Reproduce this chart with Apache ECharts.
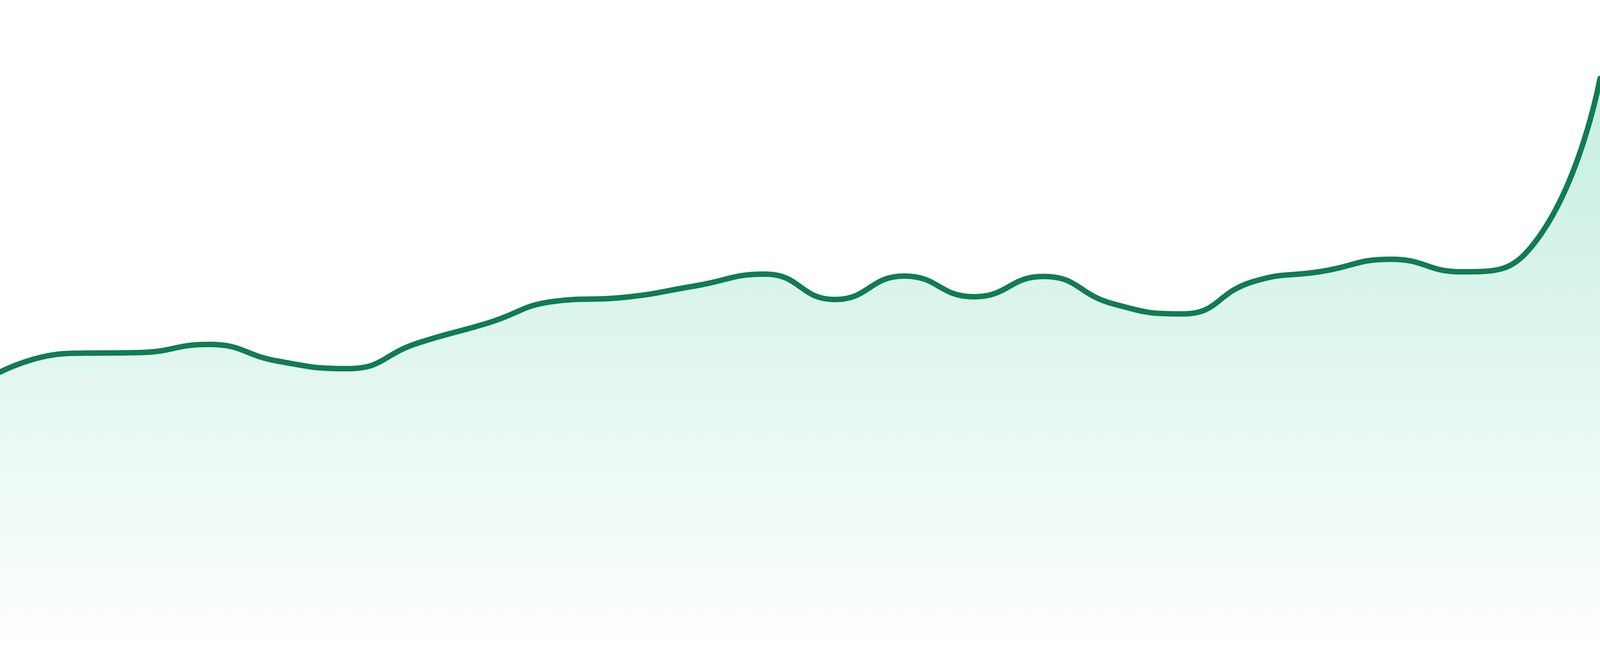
<!DOCTYPE html>
<html>
<head>
<meta charset="utf-8">
<style>
  html, body { margin: 0; padding: 0; background: #ffffff; overflow: hidden; width: 100%; height: 100%; }
  #chart { width: 100vw; height: 100vh; }
</style>
<script src="https://cdn.jsdelivr.net/npm/echarts@6/dist/echarts.min.js"></script>
</head>
<body>
<div id="chart"></div>
<script>
const categories = ['1','2','3','4','5','6','7','8','9','10','11','12','13','14','15','16','17','18','19','20','21','22','23','24'];
const values = [679, 727, 729, 750, 707, 688, 753, 804, 861, 871, 900, 930, 865, 925, 872, 924, 854, 828, 910, 937, 968, 936, 997, 1431];
const yMin = 0;
const yMax = 1632;

const chart = echarts.init(document.getElementById('chart'), null, { renderer: 'canvas' });
chart.setOption({
  animation: false,
  backgroundColor: '#ffffff',
  grid: { left: 0, right: 0, top: 0, bottom: '2.857%', containLabel: false },
  xAxis: {
    type: 'category',
    data: categories,
    boundaryGap: false,
    show: false
  },
  yAxis: {
    type: 'value',
    min: yMin,
    max: yMax,
    show: false,
    splitLine: { show: false }
  },
  series: [{
    type: 'line',
    data: values,
    smooth: true,
    symbol: 'none',
    clip: false,
    lineStyle: { color: '#117c52', width: 14, cap: 'round', join: 'round' },
    areaStyle: {
      color: new echarts.graphic.LinearGradient(0, 0, 0, 1, [
        { offset: 0, color: 'rgba(16,185,129,0.35)' },
        { offset: 1, color: 'rgba(16,185,129,0.01)' }
      ])
    }
  }]
});
window.addEventListener('resize', function () { chart.resize(); });
</script>
</body>
</html>
